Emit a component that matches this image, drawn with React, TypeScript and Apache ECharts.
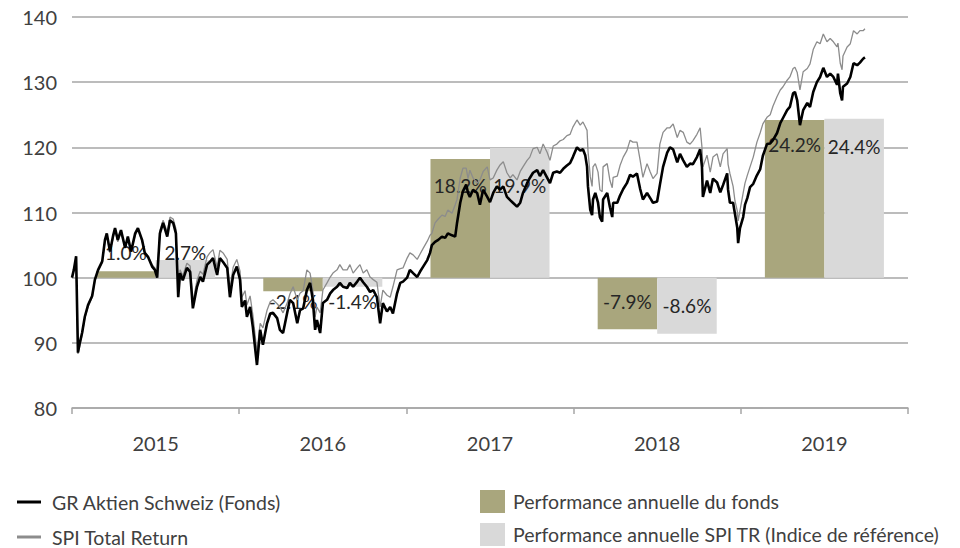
import { useEffect, useRef } from 'react';
import * as echarts from 'echarts';

// ---- categories / annual performance (%) ----
const years = ['2015', '2016', '2017', '2018', '2019'];
const fundPerf = [1.0, -2.1, 18.2, -7.9, 24.2];
const spiPerf = [2.7, -1.4, 19.9, -8.6, 24.4];

// ---- daily index series (rebased to 100), days since 2015-01-01 ----
const dayOffsets = [
  0, 4, 9, 13, 17, 22, 28, 35, 44, 50, 57, 66, 72, 76, 83, 90, 94, 100, 107, 116, 122, 129, 138, 144, 153, 159, 166, 175, 181, 186,
  192, 199, 208, 214, 221, 227, 232, 236, 242, 251, 258, 264, 273, 280, 286, 295, 301, 308, 317, 323, 330, 339, 345, 352, 360, 367, 371, 378, 382, 389, 395, 404, 411, 417, 426, 433,
  439, 448, 454, 461, 470, 476, 483, 492, 498, 505, 513, 520, 526, 531, 535, 542, 548, 557, 564, 570, 579, 585, 592, 601, 607, 614, 623, 629, 636, 644, 651,
  658, 666, 673, 679, 688, 695, 701, 710, 717, 723, 732, 738, 745, 754, 760, 767, 776, 782, 786, 793, 800, 808, 815, 821, 830, 837, 841, 848, 854, 861, 865,
  869, 876, 885, 891, 898, 907, 913, 920, 928, 935, 942, 950, 957, 963, 972, 979, 985, 994, 1000, 1007, 1016, 1022, 1029, 1038, 1044, 1051, 1059, 1066, 1073, 1081, 1088,
  1094, 1103, 1110, 1116, 1121, 1125, 1127, 1132, 1136, 1138, 1143, 1149, 1153, 1158, 1160, 1169, 1175, 1180, 1182, 1191, 1197, 1204, 1212, 1219, 1225, 1234, 1241, 1247, 1256, 1263, 1269, 1278, 1284, 1291, 1300,
  1306, 1313, 1322, 1328, 1335, 1343, 1350, 1356, 1365, 1372, 1376, 1378, 1387, 1394, 1400, 1409,
  1416, 1422, 1431, 1433, 1437, 1444, 1448, 1453, 1455, 1459, 1466, 1470, 1475, 1481, 1488, 1496, 1503, 1509, 1518,
  1525, 1531, 1540, 1547, 1553, 1562, 1568, 1575, 1579, 1584, 1590, 1597, 1606, 1612, 1619, 1627,
  1634, 1641, 1649, 1656, 1663, 1671, 1673, 1678, 1682, 1684, 1693, 1700, 1707, 1715, 1721, 1728, 1732,
];

const fundValues = [
  100, 101.2, 103.3, 88.5, 90, 91.5, 94, 95.8, 97.2, 99.7, 101.2, 102.5, 105.8, 106.8, 104, 106.5, 107.6, 105.8, 107.3, 104.6, 106.3, 104, 106.8, 107.6, 105.8, 103.8, 103.2, 101.7, 101.2, 100,
  106.8, 108.4, 106.3, 108.8, 108.4, 106.8, 97, 100.7, 99.6, 101.5, 100.9, 95.3, 98.6, 100.1, 99.4, 102, 102.4, 103, 100.4, 103, 102.4, 101.5, 97, 100.4, 101.7, 99.7, 95.5, 96.5, 94, 95.5, 92.4, 86.6, 92, 89.7, 93, 94.5,
  94.6, 93.8, 92, 91.5, 94.6, 96.6, 96.1, 93, 95, 95.3, 98.1, 99.2, 96.6, 92, 93.5, 91.5, 96.1, 96.6, 97.6, 98.1, 98.6, 99.2, 98.6, 98.4, 99.2, 98.6, 99.4, 100, 99.3, 98.6, 97.8,
  98.1, 97, 93, 96.1, 94.8, 95.5, 94.5, 97.6, 99.2, 99.4, 100, 101.2, 100.7, 100.1, 100.9, 101.7, 102.7, 103.8, 105, 105.5, 105.8, 106.3, 106.1, 106.8, 106.5, 106.3, 108.4, 111.5, 113.3, 114.3, 113,
  112.4, 113.5, 113, 111.2, 113.5, 112.4, 111.6, 113, 114, 113.5, 114, 112.4, 111.9, 111.5, 110.9, 111.5, 113, 114.5, 115.3, 116.1, 116.5, 115.6, 116.5, 115.3, 114.5, 116.1, 116.3, 116.1, 116.7, 117.2, 117.6,
  118.5, 120, 119.5, 119.7, 118.8, 117, 114, 110.4, 109.6, 112, 113, 111.5, 109.3, 108.6, 112, 113, 110.8, 109.3, 111.5, 111.5, 112.6, 113.6, 114.5, 115.8, 115.5, 116, 113.6, 112, 113, 112.2, 111.5, 111.7, 114.2, 117, 119.2,
  120, 119.7, 117.7, 119, 118, 117, 117.5, 117.4, 118.5, 119.7, 117, 112.4, 114.9, 113, 115.2, 114.6,
  113.1, 114.2, 116, 113.5, 111.5, 111.5, 109.8, 107.7, 105.3, 107.6, 109.3, 111.2, 112.2, 113.9, 114.4, 115.7, 116.6, 118.7, 120.5,
  120.6, 121.1, 122.2, 123.7, 124.5, 125.7, 126.2, 128.3, 128.5, 127.2, 123.4, 125.7, 126.8, 126.2, 128.5, 130,
  130.8, 132.2, 130.8, 131.3, 130.8, 129.6, 131.3, 128.3, 127.2, 129.3, 129.8, 130.8, 132.9, 132.6, 133, 133.6, 133.8,
];

const spiValues = [
  100, 101, 102.5, 88.3, 89.5, 91.2, 93.8, 95.5, 97, 99.5, 101, 102.3, 105.5, 106.5, 103.8, 106.2, 107.3, 105.5, 107, 104.5, 106, 104, 106.5, 107.3, 105.6, 103.8, 103.3, 102, 101.5, 100.3,
  107.3, 108.8, 107, 109.3, 109, 107.5, 97.8, 101.2, 100.3, 102.2, 101.8, 96.3, 99.6, 101, 100.5, 103.2, 103.8, 104.3, 101.6, 104.2, 103.8, 102.8, 98.3, 101.6, 102.8, 101, 97, 98, 95.8, 97.2, 94.3, 88.6, 93, 92.3, 95, 96.3,
  96.6, 96, 95.5, 94.6, 96.1, 97.5, 98.6, 96.6, 97.6, 98, 101.2, 100.7, 98.1, 94, 95.5, 94.6, 98.1, 99.2, 100.1, 100.7, 101.2, 102, 101.2, 101.2, 102, 100.7, 101.5, 102, 100.7, 101.2, 100.1,
  99.7, 99.3, 95.5, 98.1, 97.3, 97, 98.6, 101.2, 101.4, 101.5, 103, 103.8, 103.5, 102.8, 103.6, 104.5, 105.6, 106.5, 106.8, 108.4, 109, 109.6, 109.4, 110.4, 109.9, 111.2, 112, 115.3, 116.8, 116.8, 115.2,
  116.5, 115.3, 114.5, 115, 116.3, 117, 115, 115.3, 116.5, 117.3, 117.8, 116.1, 115.3, 115.8, 115, 116.3, 117, 118, 118.5, 119.8, 120, 119, 120.5, 119.2, 118, 120.2, 120.5, 121, 121.2, 121.8, 122,
  123.1, 124.2, 123.4, 123.9, 123.2, 122.6, 119.5, 115.5, 114, 117, 117.5, 116.2, 113.5, 113.2, 117, 117.5, 114.9, 113.8, 115.4, 115.6, 117.2, 118.5, 119.5, 121.1, 120.8, 120.8, 118, 115.4, 117.5, 116.2, 115.2, 116, 120.5, 122.3, 123,
  123, 123.6, 121.5, 122.6, 122.3, 120.8, 120.5, 121, 122, 123, 120, 117, 118.8, 116.2, 118.5, 119,
  117, 119, 119.8, 117.4, 116, 114, 111.8, 110.3, 108.7, 110.3, 113, 114.5, 115.7, 117, 118.5, 120.8, 122.2, 123.6, 124.6,
  125, 126.3, 127.8, 128.8, 129.3, 130.3, 130.8, 132.1, 132.3, 131.5, 128.8, 131.6, 132.1, 132.8, 135, 136.2,
  135.9, 137.4, 136.2, 136.7, 136.2, 135.4, 136, 132.9, 131.9, 134, 135.4, 135.9, 137.9, 137.4, 137.9, 137.9, 138.2,
];

// ---- layout (label anchor heights on the value axis) ----
const fundLabelAt = [103.8, 96.3, 114.2, 96.3, 120.4];
const spiLabelAt = [103.8, 96.3, 114.2, 95.7, 120.2];

const FONT = 'Lato, "Open Sans", sans-serif';
const TEXT = '#404040';
const OLIVE = '#A9A67D';
const LIGHT = '#D9D9D9';
const GRID = '#A6A6A6';

function barSeries(name: string, perf: number[], labelAt: number[], color: string, side: number) {
  return {
    type: 'custom',
    name,
    z: 1,
    xAxisIndex: 0,
    yAxisIndex: 0,
    itemStyle: { color },
    encode: { x: 0, y: 1 },
    data: perf.map((p, i) => [i, p, labelAt[i]]),
    renderItem: (_params: any, api: any) => {
      const i = api.value(0);
      const p = api.value(1);
      const la = api.value(2);
      const base = api.coord([i, 100]);
      const top = api.coord([i, 100 + p]);
      const band = api.size([1, 0])[0];
      const w = band * 0.356;
      const x0 = side < 0 ? base[0] - w : base[0];
      const lab = api.coord([i, la]);
      return {
        type: 'group',
        children: [
          {
            type: 'rect',
            shape: { x: x0, y: Math.min(base[1], top[1]), width: w, height: Math.abs(base[1] - top[1]) },
            style: { fill: color },
          },
          {
            type: 'text',
            style: {
              text: p.toFixed(1) + '%',
              x: x0 + w / 2,
              y: lab[1],
              align: 'center',
              verticalAlign: 'middle',
              fill: '#262626',
              fontSize: 19,
              fontFamily: FONT,
            },
          },
        ],
      };
    },
  };
}

export default function App() {
  const ref = useRef<HTMLDivElement>(null);
  useEffect(() => {
    if (!ref.current) return;
    const chart = echarts.init(ref.current, undefined, { renderer: 'svg' });
    const fundData = dayOffsets.map((d, i) => [d, fundValues[i]]);
    const spiData = dayOffsets.map((d, i) => [d, spiValues[i]]);
    chart.setOption({
      animation: false,
      backgroundColor: '#ffffff',
      textStyle: { fontFamily: FONT },
      grid: { left: 72, right: 52, top: 17, bottom: 140, containLabel: false },
      xAxis: [
        {
          type: 'category',
          data: years,
          boundaryGap: true,
          axisLine: { show: true, lineStyle: { color: GRID, width: 1.5 } },
          axisTick: { show: true, length: 6, interval: 0, lineStyle: { color: GRID, width: 1.5 } },
          axisLabel: { color: TEXT, fontSize: 20, fontFamily: FONT, margin: 25 },
          splitLine: { show: false },
        },
        { type: 'value', min: 0, max: 1826, show: false },
      ],
      yAxis: {
        type: 'value',
        min: 80,
        max: 140,
        interval: 10,
        axisLine: { show: false },
        axisTick: { show: false },
        axisLabel: { color: TEXT, fontSize: 20, fontFamily: FONT, margin: 15 },
        splitLine: { show: true, lineStyle: { color: GRID, width: 1.5 } },
      },
      legend: [
        {
          data: ['GR Aktien Schweiz (Fonds)', 'SPI Total Return'],
          orient: 'vertical',
          left: 17,
          top: 492,
          width: 400,
          height: 80,
          padding: 0,
          icon: 'rect',
          itemWidth: 24,
          itemHeight: 3,
          itemGap: 15,
          selectedMode: false,
          textStyle: { color: TEXT, fontSize: 19.5, lineHeight: 14, fontFamily: FONT, padding: [0, 0, 0, 6] },
        },
        {
          data: ['Performance annuelle du fonds', 'Performance annuelle SPI TR (Indice de référence)'],
          orient: 'vertical',
          left: 480,
          top: 490,
          width: 480,
          height: 80,
          padding: 0,
          icon: 'rect',
          itemWidth: 25,
          itemHeight: 23,
          itemGap: 10,
          selectedMode: false,
          textStyle: { color: TEXT, fontSize: 19.5, lineHeight: 14, fontFamily: FONT, padding: [0, 0, 0, 3] },
        },
      ],
      series: [
        barSeries('Performance annuelle du fonds', fundPerf, fundLabelAt, OLIVE, -1),
        barSeries('Performance annuelle SPI TR (Indice de référence)', spiPerf, spiLabelAt, LIGHT, 1),
        {
          type: 'line',
          name: 'SPI Total Return',
          xAxisIndex: 1,
          yAxisIndex: 0,
          data: spiData,
          showSymbol: false,
          symbol: 'none',
          z: 3,
          itemStyle: { color: '#8C8C8C' },
          lineStyle: { color: '#8C8C8C', width: 1.3 },
        },
        {
          type: 'line',
          name: 'GR Aktien Schweiz (Fonds)',
          xAxisIndex: 1,
          yAxisIndex: 0,
          data: fundData,
          showSymbol: false,
          symbol: 'none',
          z: 4,
          itemStyle: { color: '#000000' },
          lineStyle: { color: '#000000', width: 2.6 },
        },
      ],
    });
    return () => chart.dispose();
  }, []);
  return (
    <div
      ref={ref}
      style={{ position: 'fixed', left: 0, top: 0, width: 960, height: 548, background: '#fff' }}
    />
  );
}
